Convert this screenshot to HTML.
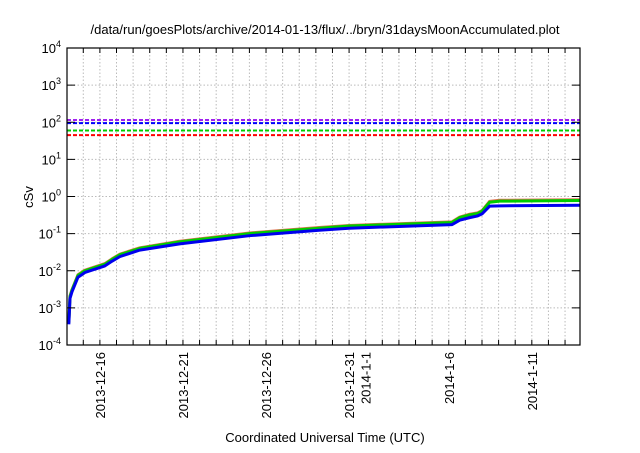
<!DOCTYPE html>
<html><head><meta charset="utf-8"><style>
body{margin:0;background:#fff;}
svg text{font-family:"Liberation Sans",sans-serif;fill:#000;}
</style></head><body>
<svg id="chart" width="640" height="448" xmlns="http://www.w3.org/2000/svg">
<text x="325" y="34" font-size="13" text-anchor="middle">/data/run/goesPlots/archive/2014-01-13/flux/../bryn/31daysMoonAccumulated.plot</text>
<text transform="translate(33,197) rotate(-90)" font-size="13" text-anchor="middle">cSv</text>
<text x="325" y="442" font-size="13" text-anchor="middle">Coordinated Universal Time (UTC)</text>
<g id="grid"></g><g id="marks"></g><g id="axes"></g>
</svg>
<script>
// day 0 = 2013-12-16
const days = [-1.87,-1.8,-1.68,-1.32,-0.9,0.3,0.72,1.2,2.4,4.8,9,13.2,15,21.2,21.66,22.26,22.74,23.0,23.46,24.07,28.9];
const redVals = [4.1e-4,2.1e-3,3.1e-3,7.8e-3,1.04e-2,1.56e-2,2.08e-2,2.8e-2,4.15e-2,6.25e-2,0.104,0.146,0.166,0.208,0.28,0.333,0.364,0.416,0.74,0.79,0.82];
const greenVals = [4e-4,2e-3,3e-3,7.5e-3,1e-2,1.5e-2,2e-2,2.7e-2,4e-2,6e-2,0.1,0.14,0.16,0.2,0.27,0.32,0.35,0.4,0.7,0.75,0.78];
const blueVals = [3.6e-4,1.8e-3,2.7e-3,6.7e-3,9e-3,1.35e-2,1.8e-2,2.4e-2,3.6e-2,5.3e-2,0.088,0.123,0.14,0.175,0.23,0.27,0.3,0.34,0.55,0.56,0.58];
const limitVals = [115,95,60,45];
const limitColors = ['#a020f0','#0000ff','#00cc00','#ff0000'];
const yTickExps = [4,3,2,1,0,-1,-2,-3,-4];
const xTickDays = [0,5,10,15,16,21,26];
const xTickLabels = ['2013-12-16','2013-12-21','2013-12-26','2013-12-31','2014-1-1','2014-1-6','2014-1-11'];

const L=67,R=580,T=48,B=345, D0=-1.98, D1=28.9;
const X=d=>L+(d-D0)/(D1-D0)*(R-L);
const Y=v=>T+(4-Math.log10(v))/8*(B-T);
const NS='http://www.w3.org/2000/svg';
function mk(tag,attrs,parent){const e=document.createElementNS(NS,tag);for(const k in attrs)e.setAttribute(k,attrs[k]);parent.appendChild(e);return e;}
const grid=document.getElementById('grid'),marks=document.getElementById('marks'),axes=document.getElementById('axes');
for(let d=Math.ceil(D0);d<=D1;d++){
  const x=X(d);
  const g=mk('line',{x1:x,x2:x,y1:T,y2:B,stroke:'#bbb','stroke-dasharray':'1.5,2','stroke-width':1},grid);
  
  const t1=mk('line',{x1:x,x2:x,y1:B,y2:B-5,stroke:'#000'},axes);
  
  const t2=mk('line',{x1:x,x2:x,y1:T,y2:T+5,stroke:'#000'},axes);
  
}
yTickExps.forEach(e=>{
  const y=Y(Math.pow(10,e));
  if(e<4&&e>-4){const g=mk('line',{x1:L,x2:R,y1:y,y2:y,stroke:'#bbb','stroke-dasharray':'1.5,2'},grid);
  }
  const a=mk('line',{x1:L,x2:L+8,y1:y,y2:y,stroke:'#000'},axes);
  const b=mk('line',{x1:R,x2:R-8,y1:y,y2:y,stroke:'#000'},axes);
  const t=mk('text',{x:61,y:y+5,'font-size':13,'text-anchor':'end'},axes);
  
  t.textContent='10';
  const s=mk('tspan',{dy:-6,'font-size':9},t);s.textContent=String(e);
});
xTickDays.forEach((d,i)=>{
  const x=X(d);
  const t=mk('text',{transform:`translate(${x+5},352) rotate(-90)`,'font-size':13,'text-anchor':'end'},axes);
  
  t.textContent=xTickLabels[i];
});
limitVals.forEach((v,i)=>{
  const l=mk('line',{x1:L,x2:R,y1:Y(v),y2:Y(v),stroke:limitColors[i],'stroke-width':2,'stroke-dasharray':'4,2'},marks);
  
});
function series(vals,color,w,name){
  const p=mk('polyline',{points:days.map((d,i)=>X(d)+','+Y(vals[i])).join(' '),fill:'none',stroke:color,'stroke-width':w,'stroke-linejoin':'round'},marks);
  
}
series(redVals,'#e07050',3,'red-series');
series(greenVals,'#00cc00',3,'green-series');
series(blueVals,'#0000ee',3,'blue-series');
const f=mk('rect',{x:L,y:T,width:R-L,height:B-T,fill:'none',stroke:'#000','stroke-width':1.2},axes);

</script>
</body></html>
